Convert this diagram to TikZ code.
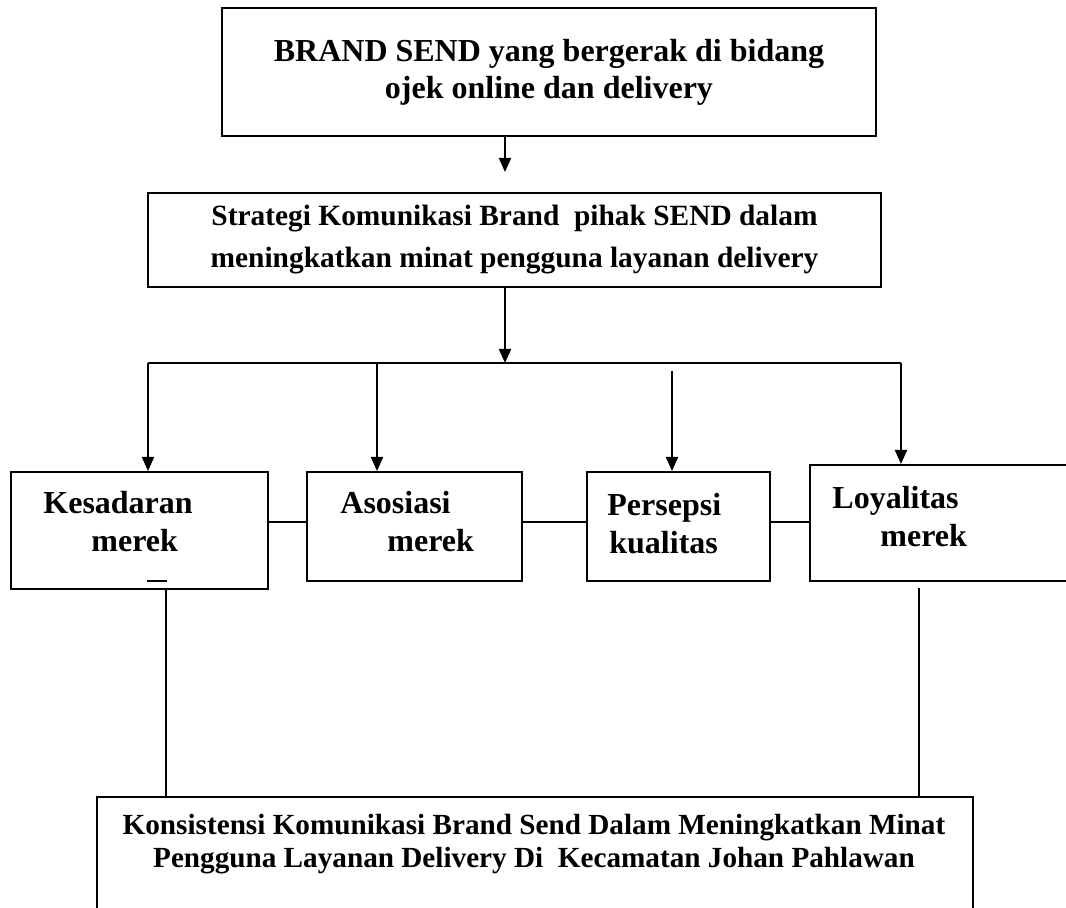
\documentclass[tikz,border=0pt]{standalone}
\usepackage{fontspec}
\setmainfont{Liberation Serif}
\usetikzlibrary{arrows.meta,positioning}

\begin{document}
\begin{tikzpicture}[x=0.5pt,y=-0.5pt,
  box/.style={draw,line width=1pt,inner sep=0pt},
  lbl/.style={align=left,inner sep=0pt,font=\bfseries\fontsize{16}{19}\selectfont},
  arr/.style={line width=1pt,-{Triangle[width=6pt,length=7pt]}},
  link/.style={line width=.75pt}]
\useasboundingbox (0,0) rectangle (1066,908);
% top of the chart
\node[box,minimum width=327pt,minimum height=64pt,align=center,
  font=\bfseries\fontsize{16}{18.5}\selectfont] (brand) at (549,72)
  {BRAND SEND yang bergerak di bidang\\ojek online dan delivery};
\node[box,minimum width=366.5pt,minimum height=47pt,align=center,
  font=\bfseries\fontsize{14.7}{21}\selectfont] (strategi) at (514.5,240)
  {Strategi Komunikasi Brand \ pihak SEND dalam\\meningkatkan minat pengguna layanan delivery};
\coordinate (ax) at (505,0);
\coordinate (a1) at (505,172);
\coordinate (hl) at (148,363);
\coordinate (hr) at (901,363);
\coordinate (d2) at (377,363);
\coordinate (d3) at (672,371);
\draw[arr] (brand.south -| ax) -- (a1);
\draw[arr] (strategi.south -| ax) -- (ax |- hl);
\draw[link,line width=1pt] (hl) -- (hr);
% the four boxes
\node[box,minimum width=128.5pt,minimum height=58.5pt] (kes) at (139.5,530.5) {};
\node[box,minimum width=107.5pt,minimum height=54.5pt] (aso) at (414.5,526.5) {};
\node[box,minimum width=91.5pt,minimum height=54.5pt] (per) at (678.5,526.5) {};
\node[box,minimum width=135pt,minimum height=58pt] (loy) at (945,523) {};
\node[lbl,anchor=west] (kestxt) at (43,522) {Kesadaran\\\hspace*{24pt}merek};
\node[lbl,anchor=west] (asotxt) at (340,522) {Asosiasi\\\hspace*{23.5pt}merek};
\node[lbl,anchor=west] (pertxt) at (607,524) {Persepsi\\\hspace*{1pt}kualitas};
\node[lbl,anchor=west] (loytxt) at (832,517) {Loyalitas\\\hspace*{24pt}merek};
\draw[link] (147,581) -- (167,581);
\draw[arr] (hl) -- (hl |- kes.north);
\draw[arr] (d2) -- (d2 |- aso.north);
\draw[arr] (d3) -- (d3 |- per.north);
\draw[arr] (hr) -- (hr |- loy.north);
\coordinate (cy) at (0,522);
\draw[link] (kes.east |- cy) -- (aso.west |- cy);
\draw[link] (aso.east |- cy) -- (per.west |- cy);
\draw[link] (per.east |- cy) -- (loy.west |- cy);
% bottom of the chart
\node[box,minimum width=438pt,minimum height=81.5pt] (konsis) at (535,878.5) {};
\node[align=center,inner sep=0pt,font=\bfseries\fontsize{14.6}{16.8}\selectfont]
  (konsistxt) at (534,844)
  {Konsistensi Komunikasi Brand Send Dalam Meningkatkan Minat\\Pengguna Layanan Delivery Di \ Kecamatan Johan Pahlawan};
\coordinate (v1) at (166,589);
\coordinate (v2) at (919,588);
\draw[link] (v1) -- (v1 |- konsis.north);
\draw[link] (v2) -- (v2 |- konsis.north);
\end{tikzpicture}
\end{document}
